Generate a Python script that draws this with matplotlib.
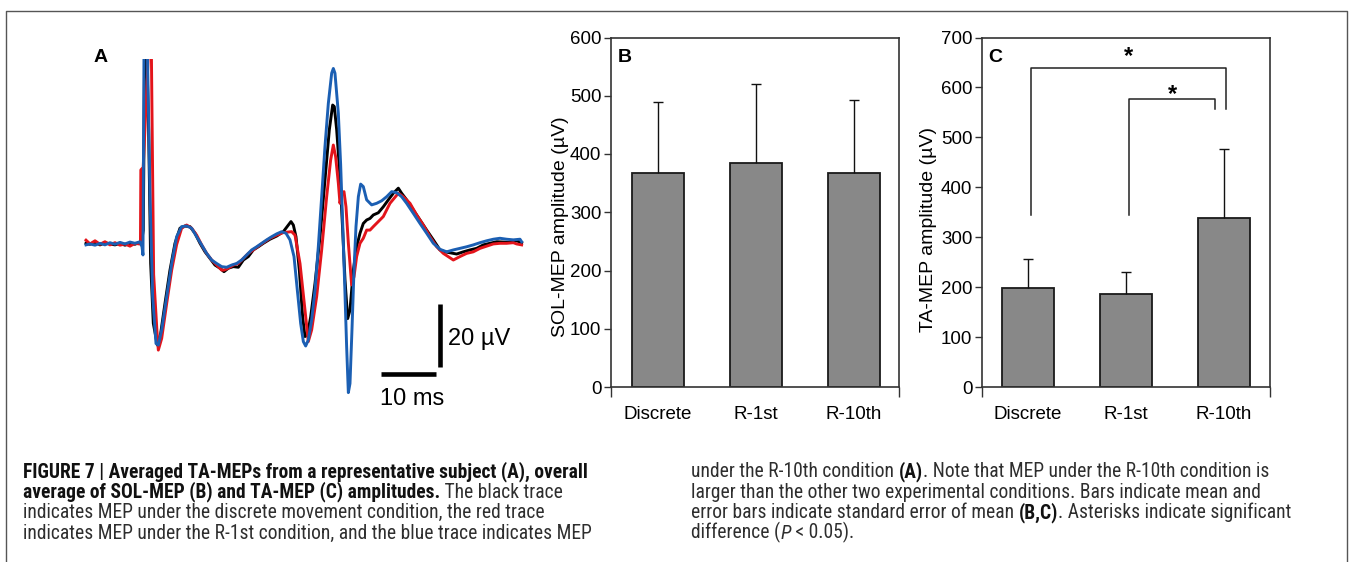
import os
import numpy as np
import matplotlib
matplotlib.use('Agg')
import matplotlib.pyplot as plt
from matplotlib import font_manager
from matplotlib.font_manager import FontProperties
from matplotlib.lines import Line2D

# ---------------- data ----------------
# Panel A: averaged TA-MEP traces (time in ms, amplitude in uV)
black_t = [0, 0.73, 1.64, 2.55, 3.45, 4.36, 5.27, 6.18, 7.09, 8.0, 8.91, 9.70, 10.06, 10.42, 10.67, 11.03,
           11.39, 11.76, 12.24, 12.97, 13.58, 14.36, 15.27, 16.18, 17.09, 18.0, 18.91, 19.82, 20.73, 21.64,
           22.55, 23.45, 24.36, 25.09, 25.88, 26.79, 27.70, 28.61, 29.52, 30.42, 31.33, 32.24, 33.45, 34.67,
           35.88, 36.79, 37.27, 37.70, 38.18, 38.79, 39.39, 39.82, 40.24, 40.85, 41.64, 42.55, 43.45, 44.24,
           44.85, 45.15, 45.58, 46.18, 46.67, 47.09, 47.58, 48.0, 48.61, 49.21, 49.82, 50.42, 51.03, 51.64,
           52.24, 53.15, 54.06, 54.97, 55.88, 56.79, 57.39, 58.30, 59.52, 60.73, 61.94, 63.15, 64.36, 65.27,
           66.18, 67.39, 68.61, 69.82, 71.03, 72.24, 73.45, 74.67, 75.88, 77.09, 78.30, 79.21]
black_v = [-0.1, -0.4, 0.3, -0.6, 0.1, -0.3, -0.6, -0.1, -0.7, -0.1, -0.4, 0.2, -0.1, 4.1, 62, 62,
           35.9, -6.5, -25.5, -32.4, -28.7, -19.2, -8.6, -0.1, 4.7, 5.4, 5.2, 3.1, -0.1, -2.8,
           -4.9, -7.0, -8.0, -9.1, -8.0, -7.5, -7.7, -5.4, -4.3, -2.2, -1.2, -0.1, 1.2, 2.2,
           3.6, 5.7, 6.8, 5.7, 2.0, -8.6, -23.5, -29.7, -29.2, -23.5, -12.8, 2.0, 20.0, 35.9,
           43.8, 43.3, 35.9, 21.2, 4.1, -11.7, -24.0, -21.3, -8.6, -1.2, 3.1, 6.2, 7.3, 7.8,
           8.9, 9.6, 11.5, 13.7, 15.8, 17.4, 15.8, 13.7, 10.5, 7.3, 4.1, 1.0, -2.2, -2.8,
           -3.1, -3.5, -2.8, -2.2, -1.7, -0.6, -0.1, 0.4, 0.3, 0.2, 0.7, 0.1]

red_t = [0, 0.73, 1.64, 2.55, 3.45, 4.36, 5.27, 6.18, 7.09, 8.0, 8.91, 9.70, 9.90, 9.97, 10.40, 11.39,
         11.88, 12.30, 12.90, 13.15, 13.76, 14.67, 15.58, 16.48, 17.39, 18.30, 19.21, 20.12, 21.03, 21.94,
         22.85, 23.76, 24.67, 25.09, 25.88, 26.79, 27.70, 28.61, 29.52, 30.42, 31.33, 32.24, 33.45, 34.67,
         35.88, 37.39, 38.0, 38.91, 39.82, 40.42, 41.03, 41.94, 42.85, 43.76, 44.48, 44.97, 45.39, 45.88,
         46.18, 46.48, 46.91, 47.27, 47.70, 48.30, 48.73, 49.21, 49.82, 50.42, 51.03, 51.64, 52.24, 53.15,
         54.06, 55.27, 56.79, 57.70, 58.91, 60.12, 61.33, 62.55, 63.76, 64.97, 66.79, 68.0, 69.21, 70.42,
         71.64, 72.85, 74.06, 75.27, 76.48, 77.70, 78.30, 79.21]
red_v = [0.9, -0.3, 0.7, -0.4, 0.4, -0.6, 0.1, -0.7, -0.3, -1.0, -0.1, -0.3, -0.3, 23.2, 24.0, 62,
         62, -10.0, -28.0, -34.0, -30.3, -19.2, -8.6, -0.5, 4.7, 5.7, 4.7, 2.5, -0.6, -3.3,
         -5.4, -7.0, -8.6, -8.6, -8.0, -7.0, -6.5, -4.9, -3.3, -2.2, -1.0, 0.1, 1.5, 2.5,
         3.3, 3.6, 2.5, -6.5, -21.3, -31.3, -27.6, -17.0, -2.2, 14.7, 26.3, 31.1, 27.4, 19.0,
         12.6, 15.8, 16.3, 11.5, 0.0, -13.3, -10.7, -4.3, -0.1, 1.5, 4.1, 4.1, 5.2, 6.8,
         8.4, 12.6, 15.8, 14.7, 12.6, 8.9, 5.7, 2.0, -1.2, -3.3, -5.4, -4.3, -3.3, -2.8,
         -1.7, -1.0, -0.3, -0.1, -0.1, 0.1, -0.3, -0.6]

blue_t = [0, 0.73, 1.64, 2.55, 3.45, 4.36, 5.27, 6.18, 7.09, 8.0, 8.91, 9.82, 10.18, 10.36, 10.55, 11.15,
          11.64, 12.12, 12.73, 13.15, 13.76, 14.67, 15.58, 16.48, 17.39, 18.30, 19.21, 20.12, 21.03, 21.94,
          22.85, 23.76, 24.67, 25.58, 26.48, 27.39, 28.30, 29.21, 30.12, 31.03, 31.94, 32.85, 33.76, 34.67,
          35.58, 36.36, 37.09, 37.82, 38.42, 39.03, 39.52, 39.94, 40.42, 41.03, 41.64, 42.24, 42.85, 43.45,
          44.06, 44.67, 44.97, 45.27, 45.88, 46.30, 46.67, 47.03, 47.39, 47.70, 48.0, 48.36, 48.73, 49.09,
          49.52, 49.94, 50.42, 51.03, 51.94, 52.85, 53.76, 54.67, 55.58, 56.48, 57.39, 58.30, 59.52, 60.73,
          61.94, 63.15, 64.36, 65.58, 66.79, 68.0, 69.21, 70.42, 71.64, 72.85, 74.06, 75.27, 76.48, 77.70,
          78.91, 79.21]
blue_v = [-0.6, -0.3, -0.7, -0.1, -0.6, 0.1, -0.4, 0.2, -0.3, 0.3, -0.1, 0.4, -1.2, -3.8, 62, 62,
          14.7, -17.0, -31.9, -32.4, -27.6, -17.0, -6.5, 2.0, 5.2, 5.4, 4.7, 2.0, -0.6, -3.3,
          -5.4, -6.5, -7.5, -7.7, -7.0, -6.5, -5.4, -3.8, -2.2, -1.2, -0.1, 1.0, 2.0, 2.9,
          3.6, 3.1, 1.0, -4.3, -14.9, -25.5, -31.3, -32.7, -30.8, -24.4, -14.9, -1.2, 14.7, 30.6,
          44.3, 53.9, 55.4, 53.9, 41.2, 25.0, 6.2, -12.8, -32.9, -47.5, -44.6, -27.6, -8.6, 5.2,
          14.7, 18.7, 17.9, 13.7, 12.1, 12.6, 13.4, 14.7, 16.3, 16.0, 14.7, 12.6, 9.4, 6.2,
          3.1, -0.1, -2.0, -2.8, -2.2, -1.7, -1.2, -0.6, 0.1, 0.7, 1.2, 1.5, 1.2, 1.0,
          1.2, 0.4]

scalebar_ms = 10
scalebar_uv = 20

# Panels B and C: mean +/- SEM amplitudes (uV)
conditions = ['Discrete', 'R-1st', 'R-10th']
sol_mean = [367, 384, 368]
sol_sem = [123, 136, 125]
ta_mean = [199, 186, 339]
ta_sem = [57.5, 44, 138]

# significance brackets in C
sig_pairs = [(0, 2), (1, 2)]
sig_levels = [639, 576]
sig_left_bottom = [344, 344]
sig_right_bottom = [556, 556]
sig_star_base = [648, 573]
sig_labels = ['*', '*']

caption_left = [
    [("FIGURE 7 | Averaged TA-MEPs from a representative subject (A), overall", 'bold', 'normal')],
    [("average of SOL-MEP (B) and TA-MEP (C) amplitudes.", 'bold', 'normal'), (" The black trace", 'normal', 'normal')],
    [("indicates MEP under the discrete movement condition, the red trace", 'normal', 'normal')],
    [("indicates MEP under the R-1st condition, and the blue trace indicates MEP", 'normal', 'normal')],
]
caption_right = [
    [("under the R-10th condition ", 'normal', 'normal'), ("(A)", 'bold', 'normal'),
     (". Note that MEP under the R-10th condition is", 'normal', 'normal')],
    [("larger than the other two experimental conditions. Bars indicate mean and", 'normal', 'normal')],
    [("error bars indicate standard error of mean ", 'normal', 'normal'), ("(B,C)", 'bold', 'normal'),
     (". Asterisks indicate significant", 'normal', 'normal')],
    [("difference (", 'normal', 'normal'), ("P", 'normal', 'italic'), (" < 0.05).", 'normal', 'normal')],
]

# ---------------- figure ----------------
W, H = 1349, 562
plt.rcParams['font.family'] = ['Liberation Sans', 'DejaVu Sans']
fig = plt.figure(figsize=(W / 100, H / 100), dpi=100)
fig.patch.set_facecolor('white')


def px_axes(l, t, r, b):
    return fig.add_axes([l / W, 1 - b / H, (r - l) / W, (b - t) / H])


# ---- Panel A ----
axA = px_axes(80, 59, 530, 400)
axA.set_xlim(-1.09, 80.73)
axA.set_ylim(-49.84, 58.41)
axA.axis('off')
lw_tr = 2.1
axA.plot(black_t, black_v, color='#000000', lw=lw_tr, solid_joinstyle='round', zorder=2)
axA.plot(red_t, red_v, color='#e3141b', lw=lw_tr, solid_joinstyle='round', zorder=3)
axA.plot(blue_t, blue_v, color='#1b5fb3', lw=lw_tr, solid_joinstyle='round', zorder=4)

vb_x, vb_top = 64.4, -19.4
hb_left, hb_y = 53.6, -41.7
axA.plot([vb_x, vb_x], [vb_top, vb_top - scalebar_uv], color='black', lw=3.3,
         solid_capstyle='butt', clip_on=False)
axA.plot([hb_left, hb_left + scalebar_ms], [hb_y, hb_y], color='black', lw=3.3,
         solid_capstyle='butt', clip_on=False)
axA.text(65.8, -32.4, f"{scalebar_uv} µV", fontsize=17, ha='left', va='baseline', clip_on=False)
axA.text(53.45, -51.4, f"{scalebar_ms} ms", fontsize=17, ha='left', va='baseline', clip_on=False)

for lab, x in (('A', 94), ('B', 618), ('C', 988)):
    fig.text(x / W, 1 - 62 / H, lab, fontsize=14, fontweight='bold', ha='left', va='baseline')


def style_bar_axes(ax, ymax, xl, xr):
    ax.set_xlim(xl, xr)
    ax.set_ylim(0, ymax)
    ax.set_yticks(np.arange(0, ymax + 1, 100))
    for s in ax.spines.values():
        s.set_linewidth(1.2)
        s.set_color('#333333')
    ax.tick_params(axis='y', direction='out', length=5, width=1, color='#333333',
                   labelsize=13.5, pad=2)
    ax.set_xticks(range(len(conditions)))
    ax.set_xticklabels(conditions)
    ax.tick_params(axis='x', which='major', length=0, labelsize=13.5, pad=13.5)
    ax.set_xticks([xl, xr], minor=True)
    ax.tick_params(axis='x', which='minor', direction='out', length=7.5, width=1, color='#333333')


def bars(ax, mean, sem):
    x = np.arange(len(mean))
    ax.bar(x, mean, width=0.535, color='#888888', edgecolor='#1a1a1a', linewidth=1.3, zorder=2)
    eb = ax.errorbar(x, mean, yerr=[np.zeros(len(sem)), sem], fmt='none', ecolor='#111111',
                     elinewidth=1.0, capsize=3.3, capthick=1.0, zorder=3)
    caps = eb[1]
    if len(caps) == 2:
        caps[0].set_visible(False)


axB = px_axes(611, 37.5, 899, 387)
bars(axB, sol_mean, sol_sem)
style_bar_axes(axB, 600, -0.48, 2.46)
axB.set_ylabel("SOL-MEP amplitude (µV)", fontsize=14)
axB.yaxis.set_label_coords(-0.147, 0.458)

axC = px_axes(982, 37.5, 1270, 387)
bars(axC, ta_mean, ta_sem)
style_bar_axes(axC, 700, -0.47, 2.47)
axC.set_ylabel("TA-MEP amplitude (µV)", fontsize=14)
axC.yaxis.set_label_coords(-0.156, 0.45)

right_off = [0.02, -0.09]
for (a, b), lev, lb, rb, sb, lab, ro in zip(sig_pairs, sig_levels, sig_left_bottom, sig_right_bottom,
                                            sig_star_base, sig_labels, right_off):
    xa, xb = a + 0.03, b + ro
    axC.plot([xa, xa, xb, xb], [lb, lev, lev, rb], color='#222222', lw=1.1, clip_on=False, zorder=4)
    axC.text((xa + xb) / 2, sb, lab, fontsize=17, fontweight='bold', ha='center', va='baseline')

fig.add_artist(Line2D([6 / W, 6 / W, 1347 / W, 1347 / W], [-0.01, 1 - 11 / H, 1 - 11 / H, -0.01],
                      transform=fig.transFigure, color='#555555', lw=1.0))


# ---- caption font: prefer a condensed sans ----
def _w(f):
    w = f.weight
    if isinstance(w, str):
        w = font_manager.weight_dict.get(w, 400)
    return int(w)


def find_condensed():
    groups = {}
    for f in font_manager.fontManager.ttflist:
        n = f.name.lower()
        fn = os.path.basename(f.fname).lower()
        st = f.stretch
        cond_str = st in ('condensed', 'semi-condensed') if isinstance(st, str) else (75 <= st <= 87.5)
        cond = ('narrow' in n or 'condensed' in n or 'narrow' in fn or 'condensed' in fn or cond_str)
        if not cond:
            continue
        if 'mono' in n or ('serif' in n and 'sans' not in n) or 'serif' in fn.replace('sans', ''):
            continue
        if 'extra' in fn or 'ultra' in fn or 'semicond' in fn:
            continue
        key = (f.name, str(st))
        groups.setdefault(key, []).append(f)
    prio = ['liberation sans narrow', 'arial narrow', 'roboto condensed', 'noto sans', 'open sans',
            'dejavu sans']
    scored = []
    for key, fl in groups.items():
        reg = [f for f in fl if f.style == 'normal' and _w(f) == 400]
        bold = [f for f in fl if f.style == 'normal' and _w(f) == 700]
        ita = [f for f in fl if f.style in ('italic', 'oblique') and _w(f) == 400]
        if not reg or not bold:
            continue
        nm = key[0].lower()
        rank = next((i for i, p in enumerate(prio) if nm.startswith(p)), len(prio))
        scored.append((rank, key, reg[0].fname, bold[0].fname, ita[0].fname if ita else reg[0].fname))
    if scored:
        scored.sort()
        return scored[0][2:]
    return None


cond_files = find_condensed()


def make_fp(weight, style, size):
    if cond_files:
        fname = cond_files[1] if weight == 'bold' else (cond_files[2] if style == 'italic' else cond_files[0])
        fp = FontProperties(fname=fname)
    else:
        fp = FontProperties(family='Liberation Sans', weight=weight, style=style)
    fp.set_size(size)
    return fp


renderer = fig.canvas.get_renderer()


def seg_width(txt, weight, style, size):
    def w(s):
        t = fig.text(0, 0, s, fontproperties=make_fp(weight, style, size))
        bb = t.get_window_extent(renderer)
        t.remove()
        return bb.width
    return w('x' + txt + 'x') - w('xx')


def line_width(segs, size):
    return sum(seg_width(t, wgt, st, size) for t, wgt, st in segs)


def column_size(lines, ref_idx, target):
    s = 11.0
    return s * target / line_width(lines[ref_idx], s)


def draw_column(lines, x0, size, base_y, step):
    for i, segs in enumerate(lines):
        x = x0
        y = base_y + i * step
        for txt, wgt, st in segs:
            col = '#111111' if wgt == 'bold' else '#2e2e2e'
            fig.text(x / W, 1 - y / H, txt, fontproperties=make_fp(wgt, st, size),
                     color=col, ha='left', va='baseline')
            x += seg_width(txt, wgt, st, size)


fit = min(column_size(caption_left, 0, 623), column_size(caption_right, 2, 636))
cap_size = fit * (0.94 if cond_files else 1.0)
draw_column(caption_left, 23, cap_size, 477, 20.6)
draw_column(caption_right, 691, cap_size, 477, 20.6)

fig.savefig('out.png', dpi=100, facecolor='white')
